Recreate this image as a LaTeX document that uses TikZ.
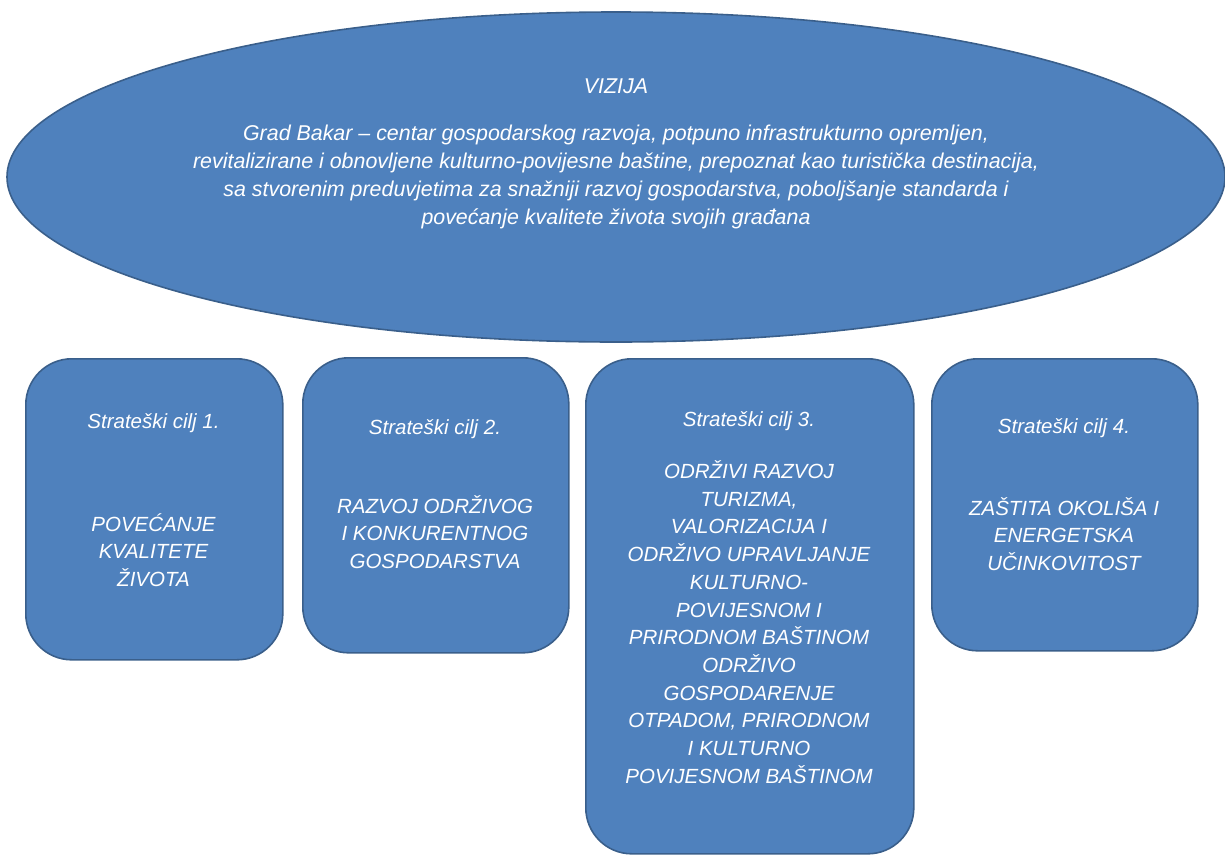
\documentclass[tikz,border=0pt]{standalone}
\usepackage{fontspec}
\setmainfont{Liberation Sans}
\usetikzlibrary{shapes.geometric}
\definecolor{boxfill}{HTML}{4F81BD}
\definecolor{boxline}{HTML}{3A5F8B}
\tikzset{
  shapebase/.style={fill=boxfill, draw=boxline, line width=1.6pt, inner sep=0pt},
  goalbox/.style={shapebase, rectangle, rounded corners=46pt, anchor=north west},
  txt/.style={text=white, align=center, inner sep=0pt,
    font=\fontsize{20.5}{27.7}\selectfont\itshape},
  vtxt/.style={txt, font=\fontsize{21.4}{28}\selectfont\itshape},
}
\begin{document}
\begin{tikzpicture}[x=1pt,y=-1pt]
\useasboundingbox (0,0) rectangle (1225,854);
% vision ellipse
\node[shapebase, ellipse, minimum width=1218pt, minimum height=330pt] (viz) at (616,177) {};
\node[vtxt] (viztitle) at (616,86) {VIZIJA};
\node[vtxt] (viztext) at (616,177) {Grad Bakar – centar gospodarskog razvoja, potpuno infrastrukturno opremljen,\\
revitalizirane i obnovljene kulturno-povijesne baštine, prepoznat kao turistička destinacija,\\
sa stvorenim preduvjetima za snažniji razvoj gospodarstva, poboljšanje standarda i\\
povećanje kvalitete života svojih građana};
% goal boxes
\node[goalbox, minimum width=257pt, minimum height=301pt] (g1) at (25,358) {};
\node[goalbox, minimum width=266pt, minimum height=295pt] (g2) at (302,357) {};
\node[goalbox, minimum width=328pt, minimum height=495pt] (g3) at (585,358) {};
\node[goalbox, minimum width=266pt, minimum height=292pt] (g4) at (931,358) {};
% texts
\node[txt] (t1) at (153.5,423) {Strateški cilj 1.};
\node[txt] (b1) at (153.5,550) {POVEĆANJE\\KVALITETE\\ŽIVOTA};
\node[txt] (t2) at (435,429) {Strateški cilj 2.};
\node[txt] (b2) at (435,532) {RAZVOJ ODRŽIVOG\\I KONKURENTNOG\\GOSPODARSTVA};
\node[txt] (t3) at (749,421) {Strateški cilj 3.};
\node[txt] (b3) at (749,622) {ODRŽIVI RAZVOJ\\TURIZMA,\\VALORIZACIJA I\\ODRŽIVO UPRAVLJANJE\\KULTURNO-\\POVIJESNOM I\\PRIRODNOM BAŠTINOM\\ODRŽIVO\\GOSPODARENJE\\OTPADOM, PRIRODNOM\\I KULTURNO\\POVIJESNOM BAŠTINOM};
\node[txt] (t4) at (1064,428) {Strateški cilj 4.};
\node[txt] (b4) at (1064,534) {ZAŠTITA OKOLIŠA I\\ENERGETSKA\\UČINKOVITOST};
\end{tikzpicture}
\end{document}
